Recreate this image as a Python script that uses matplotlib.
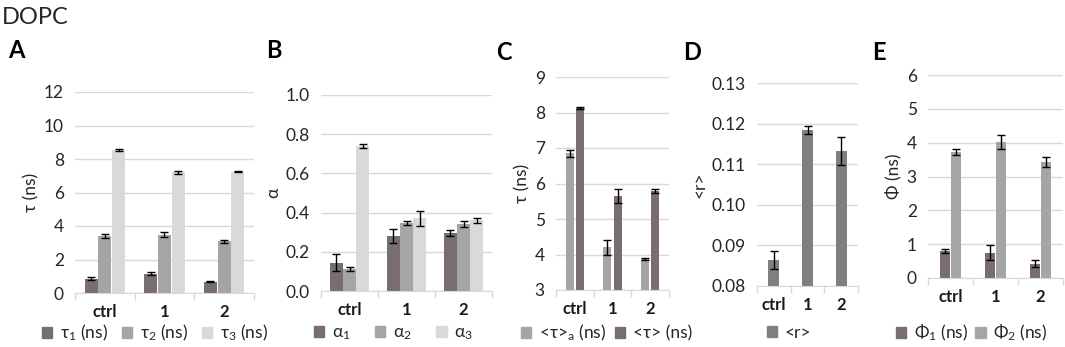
import matplotlib
matplotlib.use("Agg")
import matplotlib.pyplot as plt
from matplotlib.patches import Patch
from matplotlib.ticker import FormatStrFormatter
import numpy as np

plt.rcParams['font.family'] = ['Lato', 'DejaVu Sans']
plt.rcParams['mathtext.fontset'] = 'custom'
plt.rcParams['mathtext.rm'] = 'Lato'
plt.rcParams['mathtext.it'] = 'Lato'
plt.rcParams['mathtext.default'] = 'regular'

categories = ['ctrl', '1', '2']

# A: lifetimes
tau1 = [0.85, 1.15, 0.68]
tau1_err = [0.08, 0.08, 0.03]
tau2 = [3.38, 3.48, 3.08]
tau2_err = [0.12, 0.15, 0.08]
tau3 = [8.55, 7.20, 7.25]
tau3_err = [0.07, 0.07, 0.05]

# B: amplitudes
alpha1 = [0.145, 0.28, 0.295]
alpha1_err = [0.045, 0.035, 0.015]
alpha2 = [0.11, 0.345, 0.34]
alpha2_err = [0.01, 0.01, 0.015]
alpha3 = [0.74, 0.37, 0.36]
alpha3_err = [0.012, 0.04, 0.015]

# C: mean lifetimes
tau_a = [6.85, 4.20, 3.88]
tau_a_err = [0.10, 0.22, 0.03]
tau_m = [8.12, 5.65, 5.78]
tau_m_err = [0.03, 0.20, 0.06]

# D: anisotropy
r_mean = [0.0863, 0.1184, 0.1133]
r_err = [0.0022, 0.0010, 0.0034]

# E: rotational correlation times
phi1 = [0.80, 0.75, 0.42]
phi1_err = [0.06, 0.23, 0.10]
phi2 = [3.73, 4.02, 3.42]
phi2_err = [0.08, 0.22, 0.15]

DARK = '#786e6f'
MID = '#a5a5a5'
LIGHT = '#d9d9d9'
RGRAY = '#7f7f7f'
W, H = 1065, 347


def axes_px(fig, x0, x1, ytop, ybot):
    return fig.add_axes([x0 / W, (H - ybot) / H, (x1 - x0) / W, (ybot - ytop) / H])


def style(ax, ylim, step, fmt, ylabel):
    ax.set_ylim(*ylim)
    ax.set_yticks(np.arange(ylim[0], ylim[1] + step / 2, step))
    ax.yaxis.set_major_formatter(FormatStrFormatter(fmt))
    ax.set_xlim(-0.5, len(categories) - 0.5)
    ax.set_xticks(range(len(categories)))
    ax.set_xticklabels(categories, fontweight='bold', fontsize=12, color='#1a1a1a')
    ax.set_xticks(np.arange(-0.5, len(categories), 1), minor=True)
    ax.tick_params(axis='x', which='major', length=0, pad=8)
    ax.tick_params(axis='x', which='minor', length=5, color=LIGHT, width=1)
    ax.tick_params(axis='y', length=0, labelsize=12.5, colors='#262626', pad=8)
    for s in ['top', 'right', 'left']:
        ax.spines[s].set_visible(False)
    ax.spines['bottom'].set_color(LIGHT)
    ax.grid(axis='y', color=LIGHT, lw=1)
    ax.set_axisbelow(True)
    ax.set_ylabel(ylabel, fontsize=12.5, color='#262626', labelpad=3)


def bars(ax, series, errs, colors, width, gap, bottom=0):
    x = np.arange(len(categories))
    n = len(series)
    total = n * width + (n - 1) * gap
    for i, (vals, err, c) in enumerate(zip(series, errs, colors)):
        xs = x - total / 2 + width / 2 + i * (width + gap)
        heights = np.array(vals) - bottom
        ax.bar(xs, heights, width, bottom=bottom, color=c, zorder=2)
        ax.errorbar(xs, vals, yerr=err, fmt='none', ecolor='black', elinewidth=1,
                    capsize=3, capthick=1, zorder=3)


def legend(fig, labels, colors, x, spacing=0.8):
    handles = [Patch(color=c) for c in colors]
    fig.legend(handles, labels, loc='center left', bbox_to_anchor=(x / W, 1 - 333 / H),
               ncol=len(labels), frameon=False, fontsize=12.5, handlelength=0.6,
               handleheight=0.6, handletextpad=0.45, columnspacing=spacing, borderpad=0,
               labelcolor='#262626')


fig = plt.figure(figsize=(W / 100, H / 100), dpi=100)

fig.text(2 / W, 1 - 17 / H, 'DOPC', fontsize=17, va='center', ha='left', color='#262626')
for letter, xp, yp in [('A', 8, 50), ('B', 266, 50), ('C', 496, 52), ('D', 683, 52), ('E', 872, 52)]:
    fig.text(xp / W, 1 - yp / H, letter, fontsize=17, fontweight='bold', va='center', ha='left')

# A
axA = axes_px(fig, 75, 254, 92, 293)
style(axA, (0, 12), 2, '%d', 'τ (ns)')
bars(axA, [tau1, tau2, tau3], [tau1_err, tau2_err, tau3_err], [DARK, MID, LIGHT], 0.22, 0.01)
legend(fig, ['τ$_1$ (ns)', 'τ$_2$ (ns)', 'τ$_3$ (ns)'], [DARK, MID, LIGHT], 33)

# B
axB = axes_px(fig, 321, 492, 95, 291)
style(axB, (0, 1.0), 0.2, '%.1f', 'α')
bars(axB, [alpha1, alpha2, alpha3], [alpha1_err, alpha2_err, alpha3_err], [DARK, MID, LIGHT], 0.225, 0.01)
legend(fig, ['α$_1$', 'α$_2$', 'α$_3$'], [DARK, MID, LIGHT], 305, spacing=1.4)

# C
axC = axes_px(fig, 556, 669, 77, 290)
style(axC, (3, 9), 1, '%d', 'τ (ns)')
bars(axC, [tau_a, tau_m], [tau_a_err, tau_m_err], [MID, DARK], 0.21, 0.07, bottom=3)
legend(fig, ['<τ>$_a$ (ns)', '<τ> (ns)'], [MID, DARK], 512, spacing=0.5)

# D
axD = axes_px(fig, 757, 858, 83, 286)
style(axD, (0.08, 0.13), 0.01, '%.2f', '<r>')
bars(axD, [r_mean], [r_err], [RGRAY], 0.32, 0, bottom=0.08)
legend(fig, ['<r>'], [RGRAY], 758)

# E
axE = axes_px(fig, 928, 1063, 75, 278)
style(axE, (0, 6), 1, '%d', 'Φ (ns)')
bars(axE, [phi1, phi2], [phi1_err, phi2_err], [DARK, MID], 0.235, 0.01)
legend(fig, ['Φ$_1$ (ns)', 'Φ$_2$ (ns)'], [DARK, MID], 887, spacing=0.4)

fig.savefig('out.png', dpi=100)
